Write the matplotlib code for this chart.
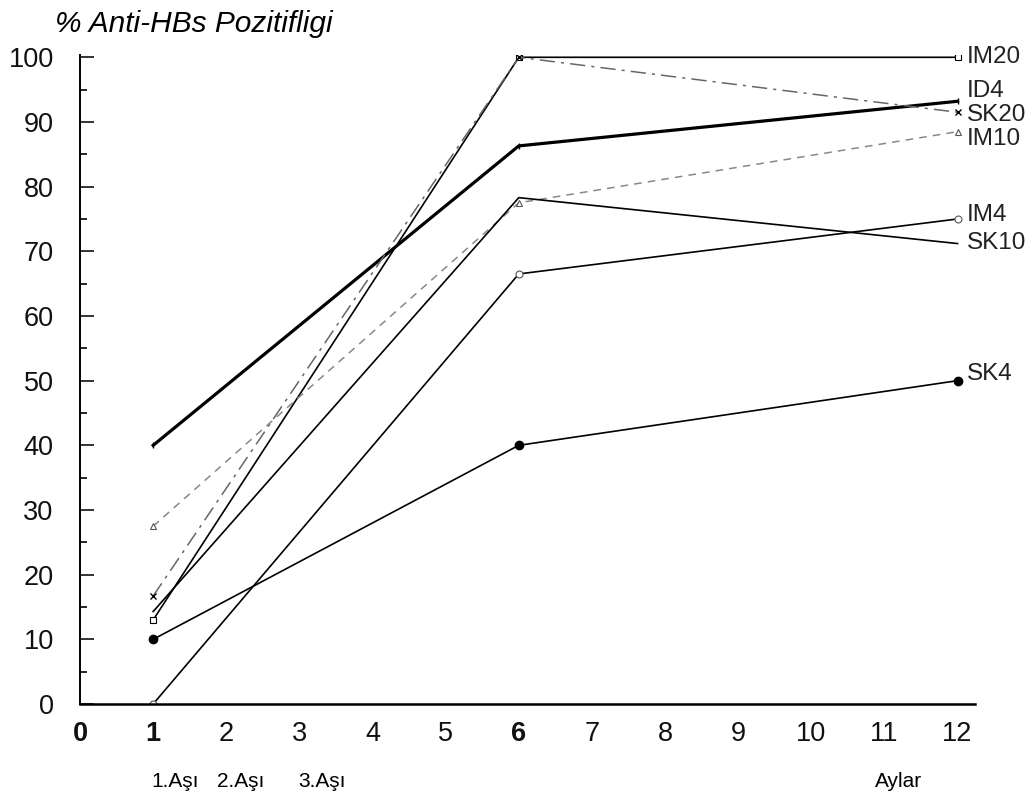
import matplotlib.pyplot as plt
from matplotlib.ticker import MultipleLocator

plt.rcParams['font.family'] = ['Liberation Sans', 'DejaVu Sans']

# ay (aşı zamanları)
months = [1, 6, 12]

# % Anti-HBs pozitifliği
id4 = [40, 86.3, 93.2]
im20 = [13, 100, 100]
sk20 = [16.7, 100, 91.5]
im10 = [27.5, 77.5, 88.5]
sk10 = [14.3, 78.3, 71.2]
im4 = [0, 66.5, 75]
sk4 = [10, 40, 50]

series_names = ['ID4', 'IM20', 'SK20', 'IM10', 'SK10', 'IM4', 'SK4']
label_y = {'IM20': 100, 'ID4': 94.8, 'SK20': 91.0, 'IM10': 87.3,
           'IM4': 75.6, 'SK10': 71.3, 'SK4': 51}

x_ticks = list(range(0, 13))
y_ticks = list(range(0, 101, 10))
bottom_notes = ['1.Aşı', '2.Aşı', '3.Aşı', 'Aylar']
note_x = [0.170, 0.234, 0.313, 0.872]

fig = plt.figure(figsize=(10.3, 7.93), dpi=100)
ax = fig.add_axes([0.0777, 0.1122, 0.869, 0.818])

ax.plot(months, id4, color='black', lw=2.3, marker='|', ms=5)
ax.plot(months, im20, color='black', lw=1.2, marker='s', ms=5, mfc='white', mew=0.8)
ax.plot(months, sk20, color='#666666', lw=1.1, ls=(0, (10, 4, 2, 4)), marker='x', ms=4, mec='black')
ax.plot(months, im10, color='#888888', lw=1.1, ls=(0, (5, 4)), marker='^', ms=4, mfc='white', mec='#555555', mew=0.8)
ax.plot(months, sk10, color='black', lw=1.2)
ax.plot(months, im4, color='black', lw=1.2, marker='o', ms=5, mfc='white', mec='#555555', mew=0.8)
ax.plot(months, sk4, color='black', lw=1.2, marker='o', ms=6)

for name in series_names:
    ax.text(12.13, label_y[name], name, fontsize=17.5, va='center', ha='left', color='#222222')

ax.set_xlim(0, 12.24)
ax.set_ylim(0, 100.3)
ax.set_xticks(x_ticks)
ax.set_yticks(y_ticks)
ax.yaxis.set_minor_locator(MultipleLocator(5))
ax.set_xticklabels([str(v) for v in x_ticks], fontsize=19.5)
ax.set_yticklabels([str(v) for v in y_ticks], fontsize=19.5)
for lbl in ax.get_xticklabels():
    if lbl.get_text() in ('0', '1', '6'):
        lbl.set_fontweight('bold')
ax.tick_params(axis='x', length=0, pad=12, colors='#111111')
ax.tick_params(axis='y', which='major', direction='in', length=10, width=1.2, pad=19, colors='#111111')
ax.tick_params(axis='y', which='minor', direction='in', length=5, width=1.2)
for side in ('top', 'right'):
    ax.spines[side].set_visible(False)
ax.spines['left'].set_linewidth(1.4)
ax.spines['bottom'].set_linewidth(1.8)

fig.text(0.053, 0.970, '% Anti-HBs Pozitifligi', fontsize=21.5, style='italic', va='center')
for x, note in zip(note_x, bottom_notes):
    fig.text(x, 0.015, note, fontsize=15, ha='center', va='center')

fig.savefig('out.png', dpi=100, facecolor='white')
